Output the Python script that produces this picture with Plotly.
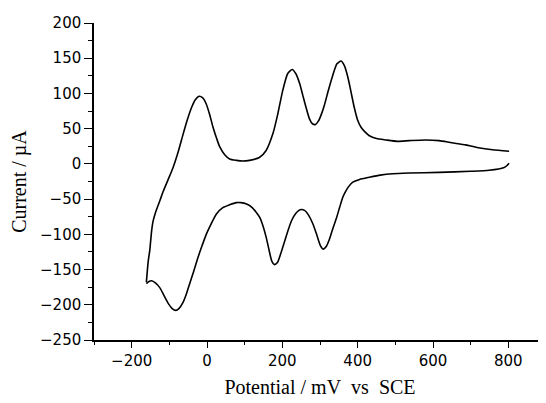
import plotly.graph_objects as go

# Anodic (forward) sweep: potential (mV vs SCE) and current (µA)
fwd_potential = [-161, -156, -152, -147, -143, -136, -125, -117, -103, -90, -76, -63, -52, -41, -31,
                 -21, -12, -2, 7, 16, 25, 34, 47, 60, 78, 95, 113, 139, 157, 175,
                 188, 201, 214, 226, 236, 246, 254, 263, 272, 280, 288, 296, 304, 312, 323,
                 334, 345, 356, 365, 374, 382, 391, 400, 409, 420, 431, 450, 475, 505, 537,
                 580, 616, 650, 687, 720, 758, 802]
fwd_current = [-168, -138, -123, -95, -81, -68, -52, -40, -22, -5, 18, 43, 63, 80, 91,
               96, 94, 85, 70, 52, 37, 24, 13, 7, 5, 4, 5, 9, 19, 43,
               71, 104, 128, 134, 128, 114, 98, 80, 64, 57, 56, 61, 71, 84, 106,
               126, 142, 146, 139, 123, 103, 80, 62, 52, 45, 40, 36, 34, 32, 33,
               34, 33, 30, 27, 23, 20, 18]

# Cathodic (reverse) sweep
rev_potential = [802, 795, 789, 749, 700, 616, 537, 493, 460, 431, 405, 387, 375, 367, 360,
                 352, 343, 334, 325, 317, 309, 301, 291, 281, 270, 259, 247, 236, 225, 216,
                 206, 196, 187, 179, 172, 165, 157, 148, 140, 131, 120, 105, 90, 78, 60,
                 42, 25, 12, -2, -13, -24, -35, -46, -55, -64, -74, -83, -93, -103, -114,
                 -125, -137, -147, -154, -161]
rev_current = [1, -3, -5, -9, -10.5, -12, -13, -14, -16, -19, -22, -26, -33, -40, -48,
               -62, -78, -92, -107, -117, -121, -116, -100, -85, -73, -66, -65, -70, -80, -93,
               -110, -127, -140, -143, -138, -123, -104, -87, -76, -69, -62, -57, -55, -55, -58,
               -62, -71, -84, -100, -116, -133, -152, -170, -185, -197, -205, -208, -205, -198, -187,
               -176, -169, -166, -167, -170]

x_ticks = [-200, 0, 200, 400, 600, 800]
y_ticks = [-250, -200, -150, -100, -50, 0, 50, 100, 150, 200]

fig = go.Figure()
for xs, ys in [(fwd_potential, fwd_current), (rev_potential, rev_current)]:
    fig.add_trace(go.Scatter(x=xs, y=ys, mode="lines",
                             line=dict(color="black", width=1.6, shape="spline", smoothing=0.6),
                             showlegend=False, hoverinfo="skip"))

axis_common = dict(showline=True, linecolor="black", linewidth=1.5, showgrid=False,
                   zeroline=False, ticks="outside", tickcolor="black", tickwidth=1.2,
                   automargin=False,
                   tickfont=dict(family="DejaVu Sans, Arial, sans-serif", size=15, color="black"))

title_font = dict(family="Liberation Serif, Times New Roman, serif", size=20, color="black")

fig.update_xaxes(range=[-300, 900], tickvals=x_ticks, ticklen=6,
                 minor=dict(dtick=100, tick0=0, ticks="outside", ticklen=3, tickcolor="black"),
                 title=dict(text="Potential / mV\u00a0\u00a0vs\u00a0\u00a0SCE", font=title_font, standoff=11),
                 **axis_common)
fig.update_yaxes(range=[-250, 200], tickvals=y_ticks, ticklen=8,
                 minor=dict(dtick=25, tick0=0, ticks="outside", ticklen=4, tickcolor="black"),
                 title=dict(text="Current / µA", font=title_font, standoff=9),
                 **axis_common)

# the page body adds an 8px offset, so the figure is sized to fit the window
fig.update_layout(width=538, height=395, paper_bgcolor="white", plot_bgcolor="white",
                  margin=dict(l=86, r=0, t=15, b=63))

fig.write_html("out.html")
